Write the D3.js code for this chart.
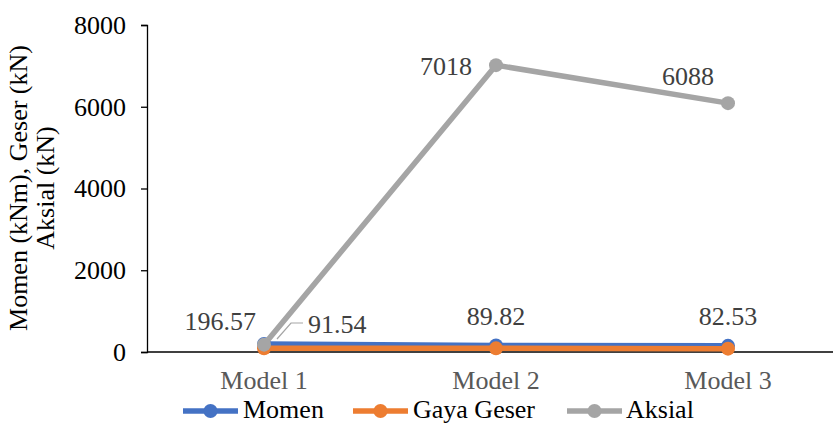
<!DOCTYPE html>
<html><head><meta charset="utf-8">
<script src="https://cdn.jsdelivr.net/npm/d3@7"></script>
<style>body{margin:0;background:#fff}svg{display:block}</style>
</head><body><svg id="c" width="833" height="423"></svg>
<script>
const categories = ["Model 1","Model 2","Model 3"];
const momen = [196.57, 160, 150];
const gayaGeser = [91.54, 89.82, 82.53];
const aksial = [180, 7018, 6088];
const yTicks = [0, 2000, 4000, 6000, 8000];
const seriesNames = ["Momen","Gaya Geser","Aksial"];
const colors = ["#4472C4","#ED7D31","#A5A5A5"];
const FONT = "'Liberation Serif', 'Times New Roman', serif";

const svg = d3.select("#c").attr("font-family", FONT);
const x = d3.scalePoint().domain(categories).range([264, 728]);
const y = d3.scaleLinear().domain([0, 8000]).range([352, 25]);

// y axis
const ya = svg.append("g").attr("transform","translate(147,0)")
  .call(d3.axisLeft(y).tickValues(yTicks).tickSize(6).tickPadding(15).tickFormat(d3.format("d")));
ya.attr("font-family", FONT);
ya.select(".domain").attr("stroke","#000").attr("stroke-width",1.3);
ya.selectAll(".tick line").attr("stroke","#000").attr("stroke-width",1.3);
ya.selectAll("text").attr("font-size",26).attr("fill","#000").attr("font-family",FONT);

// x axis line
svg.append("line").attr("x1",147).attr("x2",833).attr("y1",y(0)).attr("y2",y(0)).attr("stroke","#000").attr("stroke-width",1.3);
svg.selectAll(".cat").data(categories).join("text")
  .attr("x",d=>x(d)).attr("y",389).attr("text-anchor","middle").attr("font-size",26).attr("fill","#595959").text(d=>d);

// y title
const yt = svg.append("text").attr("transform","translate(0,188) rotate(-90)").attr("text-anchor","middle").attr("font-size",26).attr("fill","#000");
yt.append("tspan").attr("x",0).attr("y",27).text("Momen (kNm), Geser (kN)");
yt.append("tspan").attr("x",0).attr("y",54).text("Aksial (kN)");

const line = d3.line().x((d,i)=>x(categories[i])).y(d=>y(d));
const data = [momen, gayaGeser, aksial];
[0,1,2].forEach(k=>{
  const vals = data[k];
  svg.append("path").attr("d", line(vals)).attr("fill","none").attr("stroke",colors[k]).attr("stroke-width",5.5).attr("stroke-linejoin","round");
  svg.selectAll(".m"+k).data(vals).join("circle").attr("cx",(d,i)=>x(categories[i])).attr("cy",d=>y(d)).attr("r",7).attr("fill",colors[k]);
});

// data labels
const lab = (t, px, py, anchor) => svg.append("text").attr("x",px).attr("y",py).attr("text-anchor",anchor).attr("font-size",26).attr("fill","#404040").text(t);
lab(String(momen[0]), x(categories[0]) - 8, y(momen[0]) - 14, "end");
lab(String(gayaGeser[0]), 308, 333, "start");
svg.append("polyline").attr("points", [[277,339],[291,323],[303,323]].map(p=>p.join(",")).join(" ")).attr("fill","none").attr("stroke","#A5A5A5").attr("stroke-width",1.2);
lab(String(gayaGeser[1]), x(categories[1]), 325, "middle");
lab(String(gayaGeser[2]), x(categories[2]), 325, "middle");
lab(String(aksial[1]), x(categories[1]) - 24, y(aksial[1]) + 10, "end");
lab(String(aksial[2]), x(categories[2]) - 14, y(aksial[2]) - 18, "end");

// legend
const leg = [[183,243],[353,413],[567,626]];
seriesNames.forEach((n,k)=>{
  const [x0,tx] = leg[k];
  svg.append("line").attr("x1",x0).attr("x2",x0+55).attr("y1",411).attr("y2",411).attr("stroke",colors[k]).attr("stroke-width",5.5);
  svg.append("circle").attr("cx",x0+27.5).attr("cy",411).attr("r",7).attr("fill",colors[k]);
  svg.append("text").attr("x",tx).attr("y",418).attr("font-size",26).attr("fill","#000").text(n);
});
</script></body></html>
